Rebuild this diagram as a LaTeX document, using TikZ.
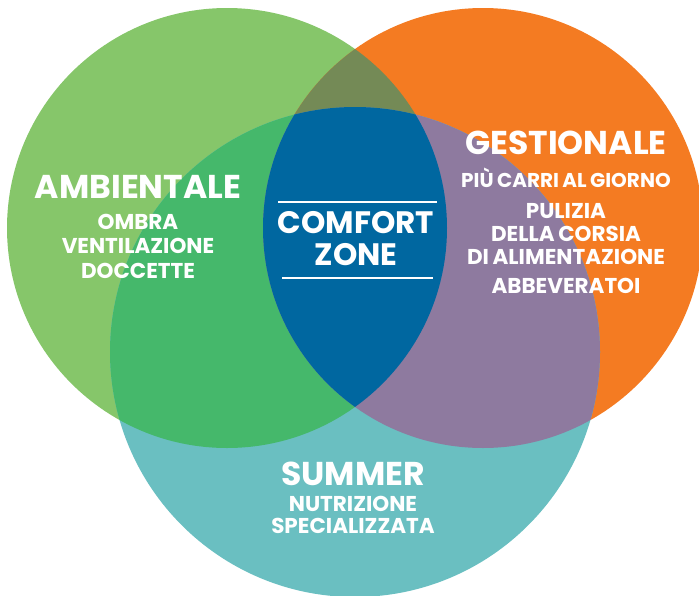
\documentclass[tikz,border=0pt]{standalone}
\usepackage{fontspec}
\setmainfont{Poppins}[WordSpace=0.8]
\usetikzlibrary{positioning}
\definecolor{ambGreen}{HTML}{86C66A}
\definecolor{gesOrange}{HTML}{F47B22}
\definecolor{sumTeal}{HTML}{6ABFC1}
\definecolor{ambSum}{HTML}{45B86B}
\definecolor{gesSum}{HTML}{8E7A9F}
\definecolor{ambGes}{HTML}{748A56}
\definecolor{czBlue}{HTML}{0067A0}
\begin{document}
\begin{tikzpicture}[x=1pt,y=1pt,
  title/.style={text=white,font=\bfseries\fontsize{33}{33}\selectfont,inner sep=0pt,anchor=base},
  items/.style={text=white,font=\bfseries\fontsize{21.5}{24.5}\selectfont,inner sep=0pt,anchor=base,align=center},
  rule/.style={white,line width=2pt}]
\useasboundingbox (0,0) rectangle (699,-595);
% circle centres
\coordinate (G) at (227,-228);
\coordinate (O) at (483,-228);
\coordinate (T) at (355,-352);
\fill[ambGreen] (G) circle (220pt);
\fill[gesOrange] (O) circle (220pt);
\fill[sumTeal] (T) circle (245pt);
\begin{scope}
  \clip (G) circle (220pt);
  \fill[ambGes] (O) circle (220pt);
  \fill[ambSum] (T) circle (245pt);
\end{scope}
\begin{scope}
  \clip (O) circle (220pt);
  \fill[gesSum] (T) circle (245pt);
\end{scope}
\begin{scope}
  \clip (G) circle (220pt);
  \clip (O) circle (220pt);
  \fill[czBlue] (T) circle (245pt);
\end{scope}
% labels (multi-line nodes sit on their last baseline)
\node[title] (amb) at (138,-198) {AMBIENTALE};
\node[items] (ambList) at (138,-278) {OMBRA\\VENTILAZIONE\\DOCCETTE};
\node[title] (ges) at (566,-154) {GESTIONALE};
\node[items,font=\bfseries\fontsize{20}{24}\selectfont] (carri) at (566,-187) {PIÙ CARRI AL GIORNO};
\node[items,font=\bfseries\fontsize{21.5}{23}\selectfont] (pulizia) at (566,-264) {PULIZIA\\DELLA CORSIA\\DI ALIMENTAZIONE};
\node[items] (abbev) at (566,-293) {ABBEVERATOI};
\node[title] (sum) at (353,-485) {SUMMER};
\node[items,font=\bfseries\fontsize{21.5}{21.5}\selectfont] (sumList) at (353,-533) {NUTRIZIONE\\SPECIALIZZATA};
\node[title,font=\bfseries\fontsize{31}{32}\selectfont,align=center] (cz) at (356,-265) {COMFORT\\ZONE};
\coordinate (czA) at (278,-202);
\coordinate (czB) at (437,-202);
\coordinate (czC) at (282,-278);
\coordinate (czD) at (433,-278);
\draw[rule] (czA) -- (czB);
\draw[rule] (czC) -- (czD);
\end{tikzpicture}
\end{document}
